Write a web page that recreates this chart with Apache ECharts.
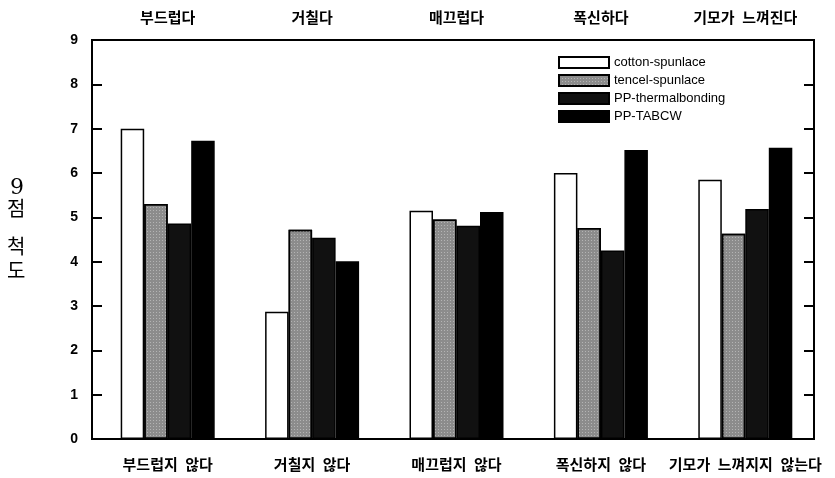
<!DOCTYPE html>
<html>
<head>
<meta charset="utf-8">
<script src="https://cdn.jsdelivr.net/npm/echarts@6/dist/echarts.min.js"></script>
<style>html,body{margin:0;padding:0;background:#fff;}#c{width:835px;height:478px;}</style>
</head>
<body>
<div id="c"></div>
<script>
const bottomCategories = ['부드럽지 않다', '거칠지 않다', '매끄럽지 않다', '폭신하지 않다', '기모가 느껴지지 않는다'];
const topCategories = ['부드럽다', '거칠다', '매끄럽다', '폭신하다', '기모가 느껴진다'];
const seriesNames = ['cotton-spunlace', 'tencel-spunlace', 'PP-thermalbonding', 'PP-TABCW'];
const cottonSpunlace = [7.0, 2.87, 5.15, 6.0, 5.85];
const tencelSpunlace = [5.30, 4.72, 4.95, 4.76, 4.63];
const ppThermalbonding = [4.86, 4.54, 4.81, 4.25, 5.19];
const ppTABCW = [6.73, 4.01, 5.12, 6.52, 6.57];
const yTicks = [0, 1, 2, 3, 4, 5, 6, 7, 8, 9];

const seriesData = [cottonSpunlace, tencelSpunlace, ppThermalbonding, ppTABCW];
const fills = ['#ffffff', '#8c8c8c', '#111111', '#000000'];
const decals = [
  null,
  { symbol: 'rect', symbolSize: 1, color: 'rgba(255,255,255,0.35)', dashArrayX: [1, 2], dashArrayY: [1, 2], rotation: 0 },
  null,
  null
];

const chart = echarts.init(document.getElementById('c'));
const catFont = { fontFamily: 'Noto Sans CJK KR', fontWeight: 'bold', fontSize: 15, color: '#000' };
const wide = v => v.replace(/ /g, '\u2002');

chart.setOption({
  animation: false,
  backgroundColor: '#fff',
  aria: { enabled: false },
  grid: [
    { left: 92, right: 21, top: 40, bottom: 39, show: true, borderColor: '#000', borderWidth: 2, backgroundColor: 'transparent' },
    { left: 95.5, right: 17.5, top: 40, bottom: 39 }
  ],
  legend: {
    orient: 'vertical', left: 553, top: 51,
    icon: 'rect',
    itemWidth: 50, itemHeight: 11, itemGap: 5,
    textStyle: { fontFamily: 'Arial, Liberation Sans', fontSize: 13, color: '#000' },
    data: seriesNames
  },
  xAxis: [
    { gridIndex: 0, type: 'category', data: bottomCategories, show: false },
    { gridIndex: 1, type: 'category', position: 'bottom', data: bottomCategories,
      axisLine: { show: false }, axisTick: { show: false },
      axisLabel: Object.assign({ interval: 0, margin: 18, formatter: wide }, catFont) },
    { gridIndex: 1, type: 'category', position: 'top', data: topCategories,
      axisLine: { show: false }, axisTick: { show: false },
      axisLabel: Object.assign({ interval: 0, margin: 15, formatter: wide }, catFont) }
  ],
  yAxis: [
    { gridIndex: 0, type: 'value', min: yTicks[0], max: yTicks[yTicks.length - 1], interval: 1,
      axisLine: { show: true, lineStyle: { color: '#000', width: 2 } },
      axisTick: { show: true, inside: true, length: 10, lineStyle: { color: '#000', width: 2 } },
      axisLabel: { margin: 14, fontFamily: 'Arial, Liberation Sans', fontWeight: 'bold', fontSize: 14, color: '#000' },
      splitLine: { show: false } },
    { gridIndex: 0, type: 'value', position: 'right', min: yTicks[0], max: yTicks[yTicks.length - 1], interval: 1,
      axisLine: { show: true, lineStyle: { color: '#000', width: 2 } },
      axisTick: { show: true, inside: true, length: 10, lineStyle: { color: '#000', width: 2 } },
      axisLabel: { show: false }, splitLine: { show: false } },
    { gridIndex: 1, type: 'value', min: yTicks[0], max: yTicks[yTicks.length - 1], show: false, splitLine: { show: false } }
  ],
  series: seriesNames.map((name, i) => ({
    name: name,
    type: 'bar',
    xAxisIndex: 1,
    yAxisIndex: 2,
    data: seriesData[i],
    barWidth: 23.5,
    barGap: '0%',
    itemStyle: Object.assign({ color: fills[i], borderColor: '#000', borderWidth: 1.5 }, decals[i] ? { decal: decals[i] } : {})
  })),
  graphic: [
    { type: 'text', left: 10, top: 177, style: { text: '9', font: '22px "DejaVu Serif", serif', fill: '#000' } },
    { type: 'text', left: 7, top: 198, style: { text: '점', font: '20px "Noto Sans CJK KR"', fill: '#000' } },
    { type: 'text', left: 7, top: 236, style: { text: '척', font: '20px "Noto Sans CJK KR"', fill: '#000' } },
    { type: 'text', left: 7, top: 260, style: { text: '도', font: '20px "Noto Sans CJK KR"', fill: '#000' } }
  ]
});
</script>
</body>
</html>
